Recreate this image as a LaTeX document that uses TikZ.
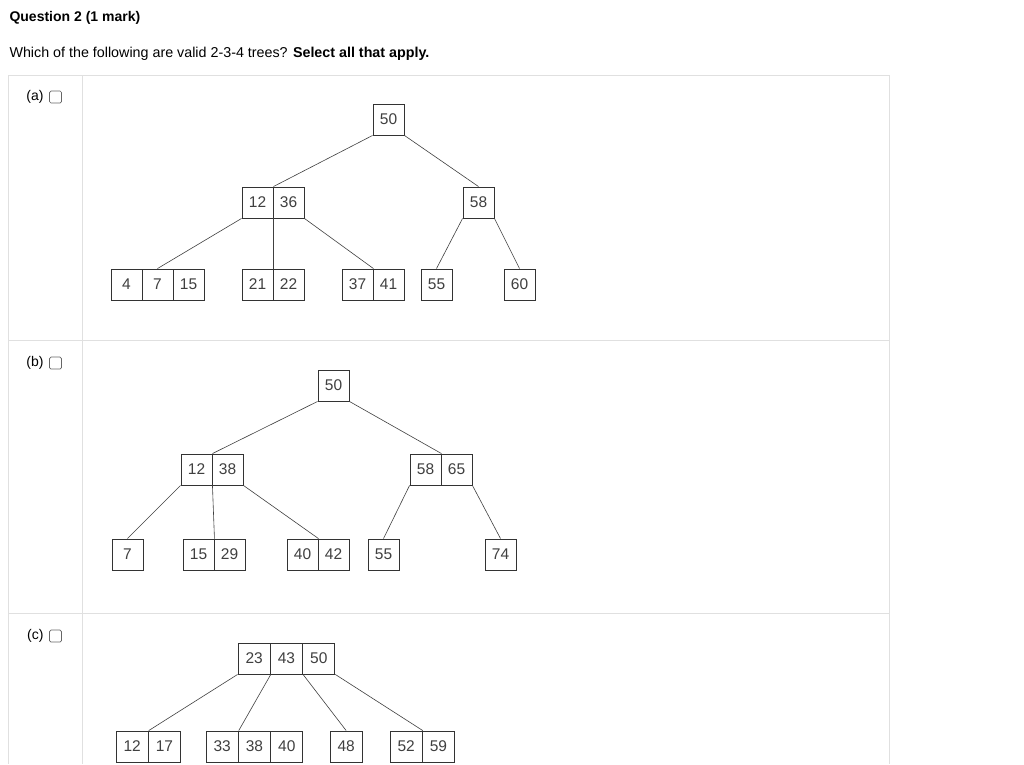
\documentclass[tikz,border=0pt]{standalone}
\usepackage{fontspec}
\setmainfont{Liberation Sans}
\begin{document}
\begin{tikzpicture}[x=1pt,y=-1pt,
  cell/.style={draw=black!80,line width=0.9pt,minimum height=31pt,inner sep=0pt,font=\fontsize{15.5}{17}\selectfont,text=black!75},
  edge/.style={draw=black!75,line width=0.6pt},
  panel/.style={draw=black!12,line width=0.8pt},
  lab/.style={font=\fontsize{14.3}{16}\selectfont,anchor=west},
  chk/.style={draw=black!60,rounded corners=1.5pt,line width=0.7pt,minimum width=12pt,minimum height=12pt,inner sep=0pt}]
\useasboundingbox (0,0) rectangle (1024,764);
\fill[white] (0,0) rectangle (1024,764);
\node[lab,font=\bfseries\fontsize{14}{16}\selectfont] (title) at (6,18) {Question 2 (1 mark)};
\node[lab] (q) at (6,54) {Which of the following are valid 2-3-4 trees? \textbf{Select all that apply.}};
% panels
\draw[panel] (8,764) -- (8,75) -- (889,75) -- (889,764);
\draw[panel] (82,75) -- (82,764);
\draw[panel] (8,340) -- (889,340);
\draw[panel] (8,613) -- (889,613);
\foreach \n/\y in {a/97,b/363,c/636}{
  \node[lab,font=\fontsize{14}{16}\selectfont,anchor=east] (l\n) at (47,\y) {(\n)};
  \node[chk] (c\n) at (55.5,\y) {};
}
\newcommand{\cellrow}[5]{% name, x-left, y-top, width, list
  \foreach \t [count=\i from 0] in {#5}{
    \node[cell,minimum width=#4pt] (#1-\i) at ({#2+#4/2+#4*\i},{#3+15.5}) {\t};
  }}
% tree (a)
\cellrow{a0}{373}{104}{31}{50}
\cellrow{a1}{242}{187}{31}{12,36}
\cellrow{a2}{463}{187}{31}{58}
\cellrow{a3}{111}{269}{31}{4,7,15}
\cellrow{a4}{242}{269}{31}{21,22}
\cellrow{a5}{342}{269}{31}{37,41}
\cellrow{a6}{421}{269}{31}{55}
\cellrow{a7}{504}{269}{31}{60}
\draw[edge] (a0-0.south west) -- (a1-0.north east);
\draw[edge] (a0-0.south east) -- (a2-0.north);
\draw[edge] (a1-0.south west) -- (a3-1.north);
\draw[edge] (a1-0.south east) -- (a4-0.north east);
\draw[edge] (a1-1.south east) -- (a5-0.north east);
\draw[edge] (a2-0.south west) -- (a6-0.north);
\draw[edge] (a2-0.south east) -- (a7-0.north);
% tree (b)
\cellrow{b0}{318}{370}{31}{50}
\cellrow{b1}{181}{454}{31}{12,38}
\cellrow{b2}{410}{454}{31}{58,65}
\cellrow{b3}{112}{539}{31}{7}
\cellrow{b4}{183}{539}{31}{15,29}
\cellrow{b5}{287}{539}{31}{40,42}
\cellrow{b6}{368}{539}{31}{55}
\cellrow{b7}{485}{539}{31}{74}
\draw[edge] (b0-0.south west) -- (b1-0.north east);
\draw[edge] (b0-0.south east) -- (b2-0.north east);
\draw[edge] (b1-0.south west) -- (b3-0.north);
\draw[edge] (b1-0.south east) -- (b4-0.north east);
\draw[edge] (b1-1.south east) -- (b5-0.north east);
\draw[edge] (b2-0.south west) -- (b6-0.north);
\draw[edge] (b2-1.south east) -- (b7-0.north);
% tree (c)
\cellrow{c0}{238}{643}{32.3}{23,43,50}
\cellrow{c1}{116}{731}{32.3}{12,17}
\cellrow{c2}{206}{731}{32.3}{33,38,40}
\cellrow{c3}{330}{731}{32.3}{48}
\cellrow{c4}{390}{731}{32.3}{52,59}
\draw[edge] (c0-0.south west) -- (c1-0.north east);
\draw[edge] (c0-0.south east) -- (c2-0.north east);
\draw[edge] (c0-1.south east) -- (c3-0.north);
\draw[edge] (c0-2.south east) -- (c4-0.north east);
\end{tikzpicture}
\end{document}
